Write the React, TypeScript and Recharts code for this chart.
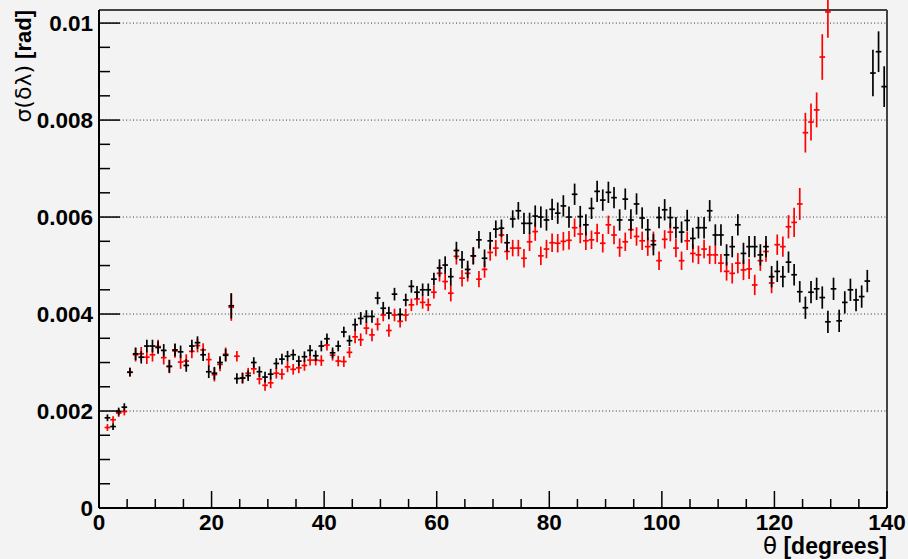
import { ScatterChart, Scatter, XAxis, YAxis, ErrorBar, ReferenceLine } from "recharts";

const BG = "#f3f3f3";
const SANS = "'Liberation Sans', Arial, sans-serif";
const GREEK = "'DejaVu Sans', sans-serif";

// plot frame (from chart margins + axis sizes)
const W = 908;
const H = 559;
const PLOT_LEFT = 99;
const PLOT_RIGHT = 887;
const PLOT_TOP = 10;
const PLOT_BOTTOM = 508;

const X_MAX = 140;
const Y_MAX = 0.01027;
const BIN_HALF = 0.5;

// bin centres in degrees
const theta = [
  1.5, 2.5, 3.5, 4.5, 5.5, 6.5, 7.5, 8.5, 9.5, 10.5, 11.5, 12.5, 13.5, 14.5, 15.5, 16.5, 17.5, 18.5, 19.5, 20.5,
  21.5, 22.5, 23.5, 24.5, 25.5, 26.5, 27.5, 28.5, 29.5, 30.5, 31.5, 32.5, 33.5, 34.5, 35.5, 36.5, 37.5, 38.5, 39.5, 40.5,
  41.5, 42.5, 43.5, 44.5, 45.5, 46.5, 47.5, 48.5, 49.5, 50.5, 51.5, 52.5, 53.5, 54.5, 55.5, 56.5, 57.5, 58.5, 59.5, 60.5,
  61.5, 62.5, 63.5, 64.5, 65.5, 66.5, 67.5, 68.5, 69.5, 70.5, 71.5, 72.5, 73.5, 74.5, 75.5, 76.5, 77.5, 78.5, 79.5, 80.5,
  81.5, 82.5, 83.5, 84.5, 85.5, 86.5, 87.5, 88.5, 89.5, 90.5, 91.5, 92.5, 93.5, 94.5, 95.5, 96.5, 97.5, 98.5, 99.5, 100.5,
  101.5, 102.5, 103.5, 104.5, 105.5, 106.5, 107.5, 108.5, 109.5, 110.5, 111.5, 112.5, 113.5, 114.5, 115.5, 116.5, 117.5, 118.5, 119.5, 120.5,
  121.5, 122.5, 123.5, 124.5, 125.5, 126.5, 127.5, 128.5, 129.5, 130.5, 131.5, 132.5, 133.5, 134.5, 135.5, 136.5, 137.5, 138.5, 139.5,
];

// black series, sigma in rad
const blackVals = [
  0.00186, 0.00168, 0.00199, 0.00208, 0.0028, 0.00318, 0.00311, 0.00334, 0.00334, 0.00331, 0.00325, 0.00292, 0.00326, 0.00322, 0.00294, 0.00334, 0.00341, 0.00316, 0.00281, 0.00278,
  0.003, 0.00315, 0.00417, 0.00267, 0.00268, 0.00273, 0.003, 0.00281, 0.0027, 0.00276, 0.00298, 0.00307, 0.00313, 0.00316, 0.00303, 0.00312, 0.00325, 0.00314, 0.00334, 0.00349,
  0.0032, 0.00334, 0.00363, 0.00345, 0.00378, 0.00391, 0.00395, 0.00395, 0.00433, 0.00412, 0.00402, 0.00441, 0.00399, 0.00429, 0.00457, 0.00445, 0.0045, 0.0045, 0.00472, 0.00495,
  0.00501, 0.00477, 0.00531, 0.00512, 0.00492, 0.0052, 0.00553, 0.00515, 0.00551, 0.00575, 0.00577, 0.00547, 0.00596, 0.00613, 0.00587, 0.00587, 0.00602, 0.006, 0.00594, 0.00616,
  0.00608, 0.00623, 0.006, 0.00647, 0.00601, 0.00584, 0.00618, 0.00653, 0.00635, 0.00651, 0.0064, 0.00594, 0.00637, 0.00594, 0.00627, 0.00598, 0.00574, 0.00543, 0.00599, 0.00615,
  0.00599, 0.00578, 0.00569, 0.00593, 0.00556, 0.00578, 0.00578, 0.00613, 0.00563, 0.00563, 0.00522, 0.00539, 0.00584, 0.00525, 0.00539, 0.00539, 0.00522, 0.00539, 0.00477, 0.00488,
  0.00477, 0.00507, 0.00481, 0.00446, 0.00413, 0.00445, 0.00452, 0.00434, 0.00384, 0.00452, 0.00386, 0.00424, 0.0045, 0.00429, 0.00436, 0.00468, 0.00897, 0.00941, 0.00869,
];

const blackErr = [
  0.00007, 0.00007, 0.00008, 0.00008, 0.00009, 0.00013, 0.00013, 0.00013, 0.00013, 0.00013, 0.00013, 0.00013, 0.00013, 0.00013, 0.00013, 0.00013, 0.00013, 0.00013, 0.00013, 0.00013,
  0.00013, 0.00013, 0.00026, 0.00011, 0.00011, 0.00011, 0.00011, 0.00011, 0.00011, 0.00011, 0.00011, 0.00011, 0.00011, 0.00011, 0.00011, 0.00011, 0.00011, 0.00011, 0.00011, 0.00011,
  0.00011, 0.00011, 0.00011, 0.00011, 0.00013, 0.00013, 0.00013, 0.00013, 0.00013, 0.00013, 0.00013, 0.00013, 0.00013, 0.00013, 0.00013, 0.00013, 0.00013, 0.00013, 0.00013, 0.00018,
  0.00018, 0.00018, 0.00018, 0.00018, 0.00018, 0.00018, 0.00018, 0.00018, 0.00018, 0.00018, 0.00018, 0.00018, 0.00018, 0.00018, 0.00022, 0.00022, 0.00022, 0.00022, 0.00022, 0.00022,
  0.00022, 0.00022, 0.00022, 0.00022, 0.00022, 0.00022, 0.00022, 0.00022, 0.00022, 0.00022, 0.00022, 0.00022, 0.00022, 0.00022, 0.00022, 0.00022, 0.00022, 0.00022, 0.00022, 0.00022,
  0.00022, 0.00022, 0.00022, 0.00022, 0.00022, 0.00022, 0.00022, 0.00022, 0.00022, 0.00022, 0.00022, 0.00022, 0.00022, 0.00022, 0.00022, 0.00022, 0.00022, 0.00022, 0.00022, 0.00022,
  0.00022, 0.00022, 0.00022, 0.00022, 0.00023, 0.00023, 0.00023, 0.00023, 0.00023, 0.00023, 0.00023, 0.00023, 0.00023, 0.00023, 0.00023, 0.00023, 0.00048, 0.00042, 0.00042,
];

// red series, stops at 129.5 deg
const redVals = [
  0.00166, 0.00182, 0.00196, 0.00199, 0.0028, 0.00316, 0.00318, 0.00311, 0.00316, 0.00333, 0.0031, 0.00292, 0.00324, 0.00301, 0.00303, 0.00323, 0.00335, 0.00326, 0.00306, 0.00275,
  0.00296, 0.00317, 0.00414, 0.00313, 0.00268, 0.00278, 0.00287, 0.00266, 0.00253, 0.00258, 0.00278, 0.00276, 0.00291, 0.00286, 0.00289, 0.00294, 0.00305, 0.00305, 0.00304, 0.00336,
  0.00315, 0.00303, 0.00302, 0.00321, 0.00353, 0.00347, 0.00371, 0.00357, 0.00379, 0.00398, 0.00366, 0.00398, 0.00385, 0.00398, 0.00419, 0.00431, 0.00424, 0.00419, 0.00445, 0.00484,
  0.00467, 0.00443, 0.00519, 0.00474, 0.00484, 0.0052, 0.00472, 0.00492, 0.00527, 0.00536, 0.00563, 0.00529, 0.00536, 0.00536, 0.00515, 0.00549, 0.0057, 0.0052, 0.00534, 0.00547,
  0.00546, 0.0055, 0.00552, 0.00578, 0.00565, 0.00551, 0.00553, 0.00567, 0.00546, 0.00584, 0.00563, 0.00537, 0.00549, 0.00574, 0.0056, 0.00551, 0.00539, 0.00551, 0.0051, 0.00554,
  0.00569, 0.00536, 0.0051, 0.00551, 0.00525, 0.00522, 0.00534, 0.00522, 0.00522, 0.00505, 0.00488, 0.00484, 0.00505, 0.00491, 0.00493, 0.0046, 0.0051, 0.00529, 0.00464, 0.00543,
  0.00539, 0.0058, 0.00589, 0.00627, 0.00774, 0.00796, 0.00821, 0.0093, 0.01023,
];

const redErr = [
  0.00007, 0.00007, 0.00008, 0.00008, 0.00009, 0.00014, 0.00014, 0.00014, 0.00014, 0.00014, 0.00014, 0.00014, 0.00014, 0.00014, 0.00014, 0.00014, 0.00014, 0.00014, 0.00014, 0.00014,
  0.00014, 0.00014, 0.00028, 0.00011, 0.00011, 0.00011, 0.00011, 0.00011, 0.00011, 0.00011, 0.00011, 0.00011, 0.00011, 0.00011, 0.00011, 0.00011, 0.00011, 0.00011, 0.00011, 0.00011,
  0.00011, 0.00011, 0.00011, 0.00011, 0.00013, 0.00013, 0.00013, 0.00013, 0.00013, 0.00013, 0.00013, 0.00013, 0.00013, 0.00013, 0.00013, 0.00013, 0.00013, 0.00013, 0.00013, 0.00017,
  0.00017, 0.00017, 0.00017, 0.00017, 0.00017, 0.00017, 0.00017, 0.00017, 0.00017, 0.00017, 0.00017, 0.00017, 0.00017, 0.00017, 0.00019, 0.00019, 0.00019, 0.00019, 0.00019, 0.00019,
  0.00019, 0.00019, 0.00019, 0.00019, 0.00019, 0.00019, 0.00019, 0.00019, 0.00019, 0.00019, 0.00019, 0.00019, 0.00019, 0.00019, 0.00019, 0.00019, 0.00019, 0.00019, 0.00019, 0.00019,
  0.00019, 0.00019, 0.00019, 0.00019, 0.00019, 0.00019, 0.00019, 0.00019, 0.00019, 0.00019, 0.00019, 0.00021, 0.00021, 0.00021, 0.00021, 0.00021, 0.00021, 0.00021, 0.00021, 0.00021,
  0.00021, 0.00024, 0.0003, 0.00033, 0.00041, 0.00038, 0.00036, 0.00047, 0.00053,
];

const xTicks = [0, 5, 10, 15, 20, 25, 30, 35, 40, 45, 50, 55, 60, 65, 70, 75, 80, 85, 90, 95, 100, 105, 110, 115, 120, 125, 130, 135, 140];
const yTicks = [
  0, 0.0005, 0.001, 0.0015, 0.002, 0.0025, 0.003, 0.0035, 0.004, 0.0045, 0.005, 0.0055, 0.006, 0.0065, 0.007, 0.0075,
  0.008, 0.0085, 0.009, 0.0095, 0.01,
];
const yMajor = [0, 0.002, 0.004, 0.006, 0.008, 0.01];
const yGrid = [0.002, 0.004, 0.006, 0.008, 0.01];

const blackRows = theta.map((t, i) => ({ t, v: blackVals[i], e: blackErr[i], xe: BIN_HALF }));
const redRows = redVals.map((v, i) => ({ t: theta[i], v, e: redErr[i], xe: BIN_HALF }));

const labelStyle = { fontFamily: SANS, fontWeight: 700, fontSize: 22.5, fill: "#000" };

function XTick({ x, payload }: any) {
  const v = payload.value;
  const major = v % 20 === 0;
  return (
    <g>
      <line x1={x} x2={x} y1={PLOT_BOTTOM} y2={PLOT_BOTTOM - (major ? 17 : 9)} stroke="#000" strokeWidth={1.5} />
      {major && (
        <text x={x} y={PLOT_BOTTOM + 22} textAnchor="middle" style={labelStyle}>
          {v}
        </text>
      )}
    </g>
  );
}

function YTick({ y, payload }: any) {
  const v = payload.value;
  const major = yMajor.some(m => Math.abs(m - v) < 1e-9);
  return (
    <g>
      <line x1={PLOT_LEFT} x2={PLOT_LEFT + (major ? 21 : 11)} y1={y} y2={y} stroke="#000" strokeWidth={1.5} />
      {major && (
        <text x={PLOT_LEFT - 6} y={y} dy="0.36em" textAnchor="end" style={labelStyle}>
          {v === 0 ? "0" : String(v)}
        </text>
      )}
    </g>
  );
}

const noMarker = () => <g />;

export default function App() {
  return (
    <div style={{ position: "absolute", left: 0, top: 0, width: W, height: H, background: BG }}>
      <ScatterChart
        width={W}
        height={H}
        margin={{ top: PLOT_TOP, right: W - PLOT_RIGHT, bottom: 0, left: 0 }}
      >
        <XAxis
          type="number"
          dataKey="t"
          domain={[0, X_MAX]}
          ticks={xTicks}
          interval={0}
          height={H - PLOT_BOTTOM}
          tick={<XTick />}
          tickLine={false}
          axisLine={{ stroke: "#000", strokeWidth: 2 }}
        />
        <YAxis
          type="number"
          dataKey="v"
          domain={[0, Y_MAX]}
          allowDataOverflow
          ticks={yTicks}
          interval={0}
          width={PLOT_LEFT}
          tick={<YTick />}
          tickLine={false}
          axisLine={{ stroke: "#000", strokeWidth: 2 }}
        />
        {yGrid.map(g => (
          <ReferenceLine key={g} y={g} stroke="#333" strokeWidth={1} strokeDasharray="1 2.4" />
        ))}
        <ReferenceLine y={Y_MAX} stroke="#444" strokeWidth={2} />
        <ReferenceLine x={X_MAX} stroke="#444" strokeWidth={2} />
        <Scatter data={redRows} fill="#ff0000" shape={noMarker} isAnimationActive={false}>
          <ErrorBar dataKey="e" direction="y" width={0} stroke="#ff0000" strokeWidth={1.7} isAnimationActive={false} />
          <ErrorBar dataKey="xe" direction="x" width={0} stroke="#ff0000" strokeWidth={1.7} isAnimationActive={false} />
        </Scatter>
        <Scatter data={blackRows} fill="#000" shape={noMarker} isAnimationActive={false}>
          <ErrorBar dataKey="e" direction="y" width={0} stroke="#000" strokeWidth={1.7} isAnimationActive={false} />
          <ErrorBar dataKey="xe" direction="x" width={0} stroke="#000" strokeWidth={1.7} isAnimationActive={false} />
        </Scatter>
      </ScatterChart>
      <svg width={W} height={H} style={{ position: "absolute", left: 0, top: 0, pointerEvents: "none" }}>
        <text x={PLOT_RIGHT} y={554} textAnchor="end" style={{ fontSize: 23, fill: "#000" }}>
          <tspan style={{ fontFamily: GREEK }}>θ</tspan>
          <tspan style={{ fontFamily: SANS, fontWeight: 700 }}> [degrees]</tspan>
        </text>
        <text
          transform={`translate(31, ${PLOT_TOP}) rotate(-90)`}
          textAnchor="end"
          style={{ fontSize: 22, fill: "#000" }}
        >
          <tspan style={{ fontFamily: GREEK }}>σ(δλ)</tspan>
          <tspan style={{ fontFamily: SANS, fontWeight: 700 }}> [rad]</tspan>
        </text>
      </svg>
    </div>
  );
}
